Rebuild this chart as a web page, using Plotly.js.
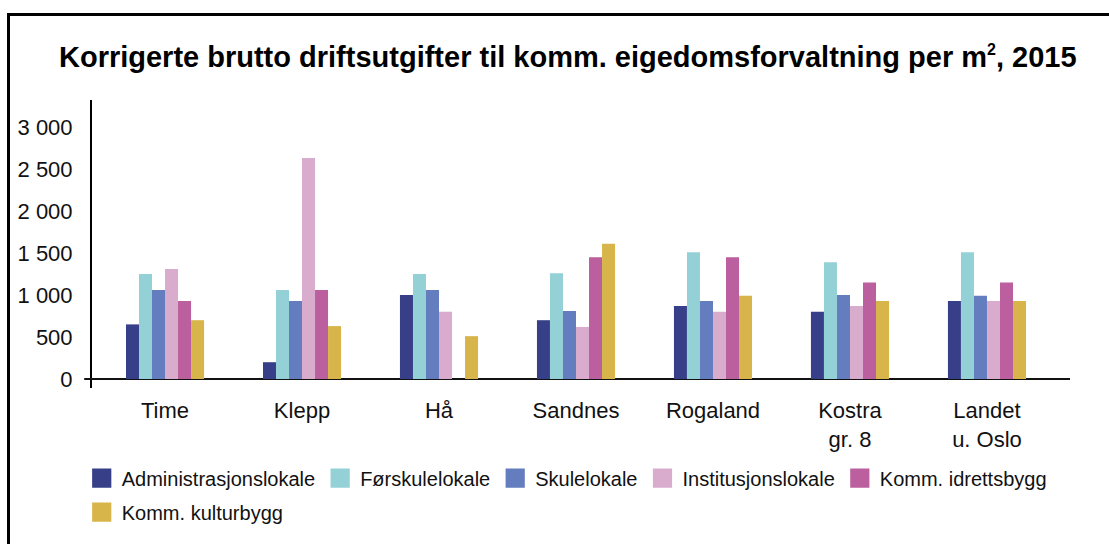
<!DOCTYPE html>
<html>
<head>
<meta charset="utf-8">
<script src="https://cdn.plot.ly/plotly-3.0.1.min.js"></script>
<style>
  body { margin: 0; padding: 0; background: #fff; overflow: hidden; }
  #plot { width: 1109px; height: 544px; }
  #frame { position: absolute; left: 7px; top: 13px; width: 1200px; height: 600px;
           border: 3px solid #000; pointer-events: none; }
</style>
</head>
<body>
<div id="plot"></div>
<div id="frame"></div>
<script>
// categories (x axis)
const places = ['Time', 'Klepp', 'Hå', 'Sandnes', 'Rogaland', 'Kostra<br>gr. 8', 'Landet<br>u. Oslo'];

// values per building type, kr per m2
const administrasjon = [650, 200, 1000, 700, 870, 800, 930];
const forskule       = [1250, 1060, 1250, 1260, 1510, 1390, 1510];
const skule          = [1060, 930, 1060, 810, 930, 1000, 990];
const institusjon    = [1310, 2630, 800, 620, 800, 870, 930];
const idrett         = [930, 1060, null, 1450, 1450, 1150, 1150];
const kultur         = [700, 630, 510, 1610, 990, 930, 930];

const seriesNames = ['Administrasjonslokale', 'Førskulelokale', 'Skulelokale',
                     'Institusjonslokale', 'Komm. idrettsbygg', 'Komm. kulturbygg'];
const seriesColors = ['#363f88', '#94d1d7', '#647dbf', '#d9abcc', '#bc5f9f', '#d7b54a'];
const seriesValues = [administrasjon, forskule, skule, institusjon, idrett, kultur];

/* one bar trace per building type; the last one goes in a second legend row */
var data = seriesValues.map(function(vals, i){
    return {
        type: 'bar',
        name: seriesNames[i],
        x: places,
        y: vals,
        legend: i < 5 ? 'legend' : 'legend2',
        marker: {color: seriesColors[i], line: {width: 0}},
        hoverinfo: 'none'
    };
});

var legendBase = {
    orientation: 'h',
    x: -0.0105, xanchor: 'left',
    yanchor: 'top',
    font: {size: 20},
    itemwidth: 30,
    traceorder: 'normal'
};

var layout = {
    width: 1109,
    height: 544,
    margin: {l: 92, r: 39, t: 100, b: 156},
    paper_bgcolor: '#fff',
    plot_bgcolor: '#fff',
    font: {family: 'Liberation Sans, Arial, sans-serif', color: '#111'},
    separators: ', ',
    title: {
        text: '<b>Korrigerte brutto driftsutgifter til komm. eigedomsforvaltning per m<sup><span style="font-size:16px">2</span></sup>, 2015</b>',
        font: {size: 29, color: '#000'},
        x: 0.512, xanchor: 'center',
        y: 0.895, yanchor: 'middle'
    },
    barmode: 'group',
    bargap: 0.43,
    bargroupgap: 0,
    xaxis: {
        type: 'category',
        range: [-0.533, 6.606],
        showgrid: false,
        showline: false,
        ticks: '',
        ticklabelstandoff: 7,
        tickfont: {size: 22},
        automargin: false
    },
    yaxis: {
        range: [-107, 3321],
        tickvals: [0, 500, 1000, 1500, 2000, 2500, 3000],
        separatethousands: true,
        showgrid: false,
        showline: true,
        linecolor: '#000',
        linewidth: 2,
        zeroline: true,
        zerolinecolor: '#111',
        zerolinewidth: 2,
        ticks: '',
        ticklabelstandoff: 13,
        tickfont: {size: 22},
        automargin: false
    },
    // little stub of the zero line left of the y axis
    shapes: [{
        type: 'line', xref: 'paper', yref: 'y',
        x0: -0.008, x1: 0, y0: 0, y1: 0,
        line: {color: '#111', width: 2}
    }],
    showlegend: true,
    legend: Object.assign({}, legendBase, {y: -0.245}),
    legend2: Object.assign({}, legendBase, {y: -0.363})
};

Plotly.newPlot('plot', data, layout, {displayModeBar: false, staticPlot: true}).then(function(gd){
    // bigger square swatches in the legend, like the original
    gd.querySelectorAll('.legendpoints path').forEach(function(p){
        var t = p.getAttribute('transform') || '';
        p.setAttribute('transform', t + ' scale(1.6)');
    });
});
</script>
</body>
</html>
